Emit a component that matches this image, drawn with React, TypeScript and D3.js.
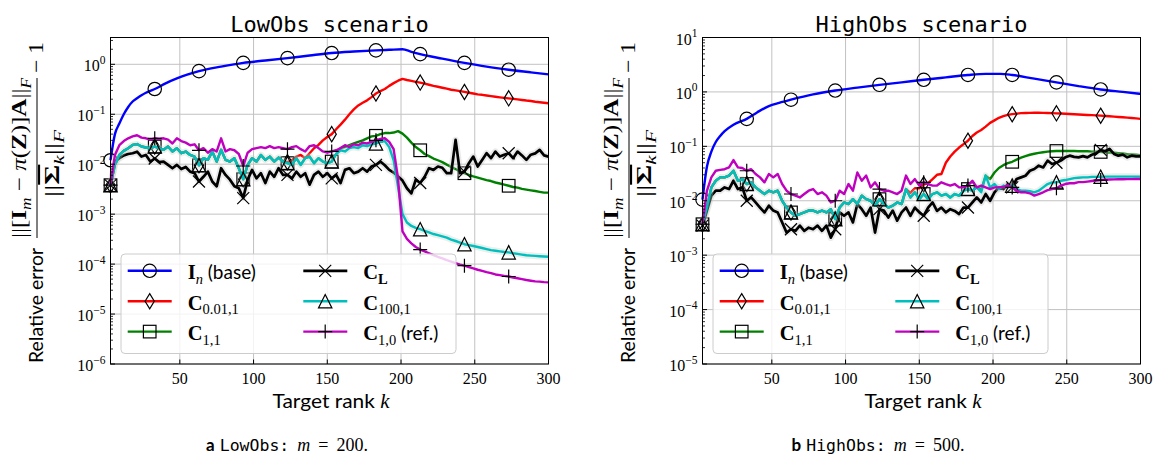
import React from 'react';
import * as d3 from 'd3';

// Target ranks k = 3, 6, ..., 300 and the ranks that carry a marker
const RANKS = d3.range(3, 301, 3);
const MARK_RANKS = d3.range(3, 301, 30);

// ---------- LowObs (m = 200) ----------
const LOW_BASE_K = [3, 6, 9, 12, 15, 18, 21, 24, 27, 33, 40, 48, 55, 63, 78, 93, 108, 123, 138, 153, 168, 183, 192, 201, 207, 213, 228, 243, 258, 273, 288, 300];
const LOW_BASE_V = [0.012, 0.04, 0.065, 0.1, 0.14, 0.18, 0.21, 0.24, 0.27, 0.32, 0.41, 0.52, 0.62, 0.73, 0.9, 1.07, 1.19, 1.33, 1.5, 1.68, 1.8, 1.9, 1.95, 2.0, 1.78, 1.6, 1.3, 1.07, 0.9, 0.78, 0.69, 0.63];

const LOW_C001 = [
  0.0038, 0.0097, 0.0153, 0.0185, 0.0209, 0.0243, 0.0253, 0.0226, 0.0216, 0.0209,
  0.0226, 0.0209, 0.0194, 0.0226, 0.0179, 0.0209, 0.0166, 0.0179, 0.0153, 0.0142,
  0.0095, 0.0132, 0.0122, 0.0179, 0.0113, 0.0194, 0.0122, 0.0113, 0.0132, 0.0083,
  0.005, 0.0097, 0.0132, 0.0113, 0.0153, 0.0122, 0.0142, 0.0113, 0.0136, 0.0113,
  0.011, 0.012, 0.0142, 0.0153, 0.0132, 0.0166, 0.0209, 0.0243, 0.03, 0.035,
  0.04, 0.05, 0.062, 0.078, 0.1, 0.125, 0.15, 0.17, 0.19, 0.22,
  0.26, 0.29, 0.32, 0.37, 0.42, 0.47, 0.51, 0.485, 0.465, 0.445,
  0.43, 0.41, 0.39, 0.37, 0.355, 0.34, 0.325, 0.31, 0.3, 0.29,
  0.28, 0.27, 0.26, 0.25, 0.245, 0.237, 0.23, 0.224, 0.218, 0.213,
  0.208, 0.203, 0.198, 0.193, 0.188, 0.184, 0.178, 0.174, 0.17, 0.166,
];

const LOW_C11 = [
  0.0038, 0.0097, 0.0153, 0.0185, 0.0209, 0.0243, 0.0253, 0.0226, 0.0216, 0.0209,
  0.0226, 0.0209, 0.0194, 0.0226, 0.0179, 0.0209, 0.0166, 0.0179, 0.0153, 0.0142,
  0.0095, 0.0132, 0.0122, 0.0179, 0.0113, 0.0194, 0.0122, 0.0113, 0.0132, 0.0083,
  0.005, 0.0097, 0.0132, 0.0113, 0.0153, 0.0122, 0.0142, 0.0113, 0.0136, 0.0113,
  0.0105, 0.0097, 0.0132, 0.0097, 0.0132, 0.0142, 0.0105, 0.0132, 0.0113, 0.0105,
  0.0113, 0.016, 0.021, 0.022, 0.024, 0.026, 0.028, 0.03, 0.033, 0.036,
  0.037, 0.04, 0.042, 0.042, 0.043, 0.046, 0.041, 0.034, 0.027, 0.022,
  0.019, 0.016, 0.0145, 0.013, 0.012, 0.011, 0.0098, 0.0088, 0.008, 0.0072,
  0.0066, 0.0061, 0.0057, 0.0054, 0.0051, 0.0048, 0.0046, 0.0043, 0.0041, 0.0039,
  0.0037, 0.0035, 0.0034, 0.0032, 0.0031, 0.003, 0.0029, 0.0028, 0.0027, 0.0027,
];

const LOW_CL = [
  0.0038, 0.0113, 0.0132, 0.015, 0.016, 0.0166, 0.0178, 0.0142, 0.0153, 0.0113,
  0.013, 0.011, 0.0113, 0.0097, 0.0083, 0.0097, 0.008, 0.0088, 0.0071, 0.0066,
  0.0045, 0.0056, 0.0071, 0.0045, 0.0036, 0.0083, 0.0061, 0.0049, 0.0036, 0.0033,
  0.0021, 0.0049, 0.0077, 0.0052, 0.0066, 0.0042, 0.0071, 0.0056, 0.0083, 0.0061,
  0.0061, 0.0052, 0.0071, 0.0056, 0.0066, 0.0039, 0.0061, 0.0071, 0.0056, 0.0066,
  0.0052, 0.0061, 0.0042, 0.0077, 0.0083, 0.0066, 0.0071, 0.0083, 0.0071, 0.009,
  0.0097, 0.0113, 0.0095, 0.0077, 0.0068, 0.0057, 0.0047, 0.0033, 0.0026, 0.0049,
  0.0042, 0.0056, 0.0083, 0.0077, 0.009, 0.0085, 0.0066, 0.0066, 0.0306, 0.0066,
  0.0071, 0.0105, 0.0142, 0.009, 0.0122, 0.0166, 0.0132, 0.0179, 0.0142, 0.0155,
  0.0166, 0.0132, 0.0179, 0.015, 0.0122, 0.0155, 0.0165, 0.0193, 0.015, 0.0142,
];

const LOW_C100 = [
  0.0038, 0.0097, 0.0153, 0.0185, 0.0209, 0.0243, 0.0253, 0.0226, 0.0216, 0.0209,
  0.0226, 0.0209, 0.0194, 0.0226, 0.0179, 0.0209, 0.0166, 0.0179, 0.0153, 0.0142,
  0.0095, 0.0132, 0.0122, 0.0179, 0.0113, 0.0194, 0.0122, 0.0113, 0.0132, 0.0083,
  0.005, 0.0097, 0.0132, 0.0113, 0.0153, 0.0122, 0.0142, 0.0113, 0.0136, 0.0113,
  0.0105, 0.0097, 0.0132, 0.0097, 0.0132, 0.0142, 0.0105, 0.0132, 0.0113, 0.0105,
  0.0113, 0.016, 0.019, 0.018, 0.021, 0.022, 0.021, 0.024, 0.023, 0.025,
  0.026, 0.028, 0.029, 0.022, 0.012, 0.0035, 0.001, 0.00068, 0.00058, 0.00053,
  0.0005, 0.00046, 0.00043, 0.0004, 0.00038, 0.00036, 0.00034, 0.00031, 0.00029, 0.00027,
  0.00025, 0.00024, 0.00023, 0.00022, 0.00021, 0.0002, 0.00019, 0.000185, 0.00018, 0.000175,
  0.000172, 0.000165, 0.00016, 0.000155, 0.00015, 0.000148, 0.000146, 0.000144, 0.000142, 0.00014,
];

const LOW_C10 = [
  0.0038, 0.0153, 0.024, 0.029, 0.033, 0.036, 0.038, 0.034, 0.033, 0.031,
  0.033, 0.032, 0.033, 0.031, 0.026, 0.033, 0.029, 0.027, 0.024, 0.025,
  0.019, 0.021, 0.017, 0.02, 0.018, 0.033, 0.018, 0.02, 0.019, 0.016,
  0.0092, 0.017, 0.02, 0.021, 0.022, 0.021, 0.023, 0.021, 0.022, 0.021,
  0.02, 0.022, 0.023, 0.02, 0.018, 0.023, 0.024, 0.021, 0.018, 0.017,
  0.018, 0.019, 0.021, 0.024, 0.022, 0.025, 0.024, 0.027, 0.026, 0.028,
  0.03, 0.032, 0.033, 0.028, 0.02, 0.005, 0.00045, 0.00032, 0.00026, 0.00022,
  0.000195, 0.00018, 0.000165, 0.000152, 0.00014, 0.00013, 0.00012, 0.000112, 0.000105, 0.000098,
  0.000093, 0.000087, 0.000082, 0.000077, 0.000073, 0.000069, 0.000066, 0.000062, 0.00006, 0.000058,
  0.0000565, 0.000054, 0.000052, 0.00005, 0.000048, 0.0000465, 0.000045, 0.0000445, 0.0000435, 0.000043,
];

// ---------- HighObs (m = 500) ----------
const HIGH_BASE_K = [3, 6, 9, 12, 15, 18, 24, 33, 40, 48, 55, 63, 78, 93, 108, 123, 138, 153, 168, 183, 195, 205, 213, 228, 243, 258, 273, 288, 300];
const HIGH_BASE_V = [0.0105, 0.042, 0.08, 0.12, 0.155, 0.19, 0.25, 0.32, 0.42, 0.55, 0.63, 0.72, 0.9, 1.06, 1.2, 1.35, 1.5, 1.67, 1.85, 2.05, 2.15, 2.15, 2.05, 1.75, 1.5, 1.28, 1.11, 1.0, 0.92];

const HIGH_C001 = [
  0.0037, 0.0075, 0.0176, 0.0233, 0.0269, 0.0269, 0.029, 0.0356, 0.0233, 0.025,
  0.0203, 0.0218, 0.0176, 0.0153, 0.0133, 0.0153, 0.0143, 0.0153, 0.01, 0.0075,
  0.0061, 0.0053, 0.0057, 0.0061, 0.0066, 0.0066, 0.0061, 0.0066, 0.0061, 0.007,
  0.0046, 0.0075, 0.0093, 0.0087, 0.0107, 0.0087, 0.0124, 0.0107, 0.01, 0.0081,
  0.0107, 0.0087, 0.0075, 0.0081, 0.0093, 0.0087, 0.0164, 0.014, 0.017, 0.017,
  0.02, 0.021, 0.025, 0.03, 0.031, 0.05, 0.065, 0.08, 0.095, 0.11,
  0.127, 0.155, 0.18, 0.2, 0.23, 0.27, 0.3, 0.335, 0.36, 0.378,
  0.39, 0.4, 0.407, 0.41, 0.412, 0.413, 0.413, 0.412, 0.41, 0.407,
  0.404, 0.4, 0.396, 0.392, 0.388, 0.385, 0.381, 0.377, 0.374, 0.371,
  0.366, 0.362, 0.357, 0.352, 0.347, 0.342, 0.337, 0.331, 0.326, 0.32,
];

const HIGH_C11 = [
  0.0037, 0.0075, 0.0176, 0.0233, 0.0269, 0.0269, 0.029, 0.0356, 0.0233, 0.025,
  0.0203, 0.0218, 0.0176, 0.0153, 0.0133, 0.0153, 0.0143, 0.0153, 0.01, 0.0075,
  0.0061, 0.0053, 0.0057, 0.0061, 0.0066, 0.0066, 0.0061, 0.0066, 0.0061, 0.007,
  0.0046, 0.0075, 0.0093, 0.0087, 0.0107, 0.0087, 0.0124, 0.0107, 0.01, 0.0081,
  0.0107, 0.0087, 0.0075, 0.0081, 0.0093, 0.0087, 0.0164, 0.0115, 0.0143, 0.0107,
  0.0133, 0.0107, 0.0133, 0.0143, 0.0124, 0.0133, 0.0115, 0.0133, 0.0124, 0.0153,
  0.0164, 0.0153, 0.0176, 0.016, 0.029, 0.025, 0.033, 0.04, 0.045, 0.049,
  0.052, 0.057, 0.062, 0.066, 0.07, 0.073, 0.076, 0.078, 0.08, 0.081,
  0.082, 0.082, 0.082, 0.082, 0.082, 0.081, 0.081, 0.081, 0.08, 0.08,
  0.079, 0.078, 0.077, 0.076, 0.075, 0.074, 0.072, 0.071, 0.07, 0.068,
];

const HIGH_CL = [
  0.0035, 0.0066, 0.0124, 0.0153, 0.0153, 0.0176, 0.0164, 0.0233, 0.0164, 0.0176,
  0.01, 0.0115, 0.0093, 0.0075, 0.0061, 0.0081, 0.0066, 0.0061, 0.004, 0.0026,
  0.003, 0.0028, 0.0035, 0.0028, 0.0032, 0.003, 0.0035, 0.0028, 0.0035, 0.0021,
  0.003, 0.0061, 0.0053, 0.0061, 0.004, 0.0087, 0.007, 0.0053, 0.0075, 0.0026,
  0.007, 0.0066, 0.0049, 0.0066, 0.0043, 0.0061, 0.0075, 0.0053, 0.0075, 0.0061,
  0.0053, 0.0075, 0.0093, 0.0065, 0.0075, 0.0061, 0.007, 0.0065, 0.0057, 0.0075,
  0.0075, 0.0093, 0.0115, 0.0093, 0.0133, 0.01, 0.0142, 0.0176, 0.0164, 0.0203,
  0.0176, 0.0251, 0.0269, 0.0288, 0.0356, 0.0383, 0.0442, 0.041, 0.0546, 0.0474,
  0.05, 0.0546, 0.0627, 0.0674, 0.064, 0.0627, 0.066, 0.0627, 0.07, 0.0743,
  0.0859, 0.081, 0.0895, 0.0725, 0.0674, 0.0703, 0.0627, 0.0674, 0.0655, 0.0655,
];

const HIGH_C100 = [
  0.0037, 0.0075, 0.0176, 0.0233, 0.0269, 0.0269, 0.029, 0.0356, 0.0233, 0.025,
  0.0203, 0.0218, 0.0176, 0.0153, 0.0133, 0.0153, 0.0143, 0.0153, 0.01, 0.0075,
  0.0061, 0.0053, 0.0057, 0.0061, 0.0066, 0.0066, 0.0061, 0.0066, 0.0061, 0.007,
  0.0046, 0.0075, 0.0093, 0.0087, 0.0107, 0.0087, 0.0124, 0.0107, 0.01, 0.0081,
  0.0107, 0.0087, 0.0075, 0.0081, 0.0093, 0.0087, 0.0164, 0.0115, 0.0143, 0.0107,
  0.0133, 0.0107, 0.0133, 0.0143, 0.0124, 0.0133, 0.0115, 0.0133, 0.0124, 0.0153,
  0.0164, 0.0153, 0.0176, 0.0143, 0.029, 0.0176, 0.0203, 0.0164, 0.019, 0.0176,
  0.019, 0.0164, 0.0153, 0.0153, 0.015, 0.0143, 0.0153, 0.0176, 0.0203, 0.0218,
  0.0218, 0.0233, 0.024, 0.025, 0.026, 0.0265, 0.0269, 0.0269, 0.0275, 0.0275,
  0.0276, 0.0277, 0.0277, 0.0278, 0.0278, 0.0278, 0.0278, 0.0278, 0.0277, 0.0277,
];

const HIGH_C10 = [
  0.0037, 0.0153, 0.0269, 0.0356, 0.037, 0.038, 0.0411, 0.056, 0.041, 0.04,
  0.0356, 0.038, 0.031, 0.0269, 0.0218, 0.031, 0.0269, 0.031, 0.0203, 0.0153,
  0.0133, 0.0124, 0.0115, 0.0133, 0.0153, 0.0164, 0.0133, 0.0143, 0.0124, 0.0093,
  0.01, 0.0153, 0.0133, 0.0203, 0.0153, 0.033, 0.0233, 0.029, 0.0176, 0.0218,
  0.0164, 0.0153, 0.0153, 0.0143, 0.0133, 0.0153, 0.029, 0.0203, 0.025, 0.019,
  0.0218, 0.0203, 0.019, 0.019, 0.0218, 0.0203, 0.019, 0.0203, 0.0176, 0.0176,
  0.019, 0.0233, 0.0176, 0.019, 0.0176, 0.0164, 0.0176, 0.0176, 0.018, 0.019,
  0.0176, 0.0153, 0.0143, 0.0143, 0.0137, 0.0124, 0.0133, 0.0143, 0.0157, 0.0164,
  0.017, 0.019, 0.0203, 0.021, 0.021, 0.022, 0.022, 0.0225, 0.023, 0.0235,
  0.024, 0.0243, 0.0245, 0.0247, 0.0248, 0.0249, 0.025, 0.025, 0.0251, 0.0251,
];

// Axis tick values
const X_TICKS = [50, 100, 150, 200, 250, 300];
const LOW_Y_TICKS = [1e-6, 1e-5, 1e-4, 1e-3, 1e-2, 1e-1, 1e0];
const HIGH_Y_TICKS = [1e-5, 1e-4, 1e-3, 1e-2, 1e-1, 1e0, 1e1];

const SERIF = "'Liberation Serif', 'DejaVu Serif', serif";
const SANS = "Lato, 'Liberation Sans', sans-serif";
const MONO = "'DejaVu Sans Mono', 'Liberation Mono', monospace";

const TOP = 37.5;
const BOTTOM = 364;

type MarkerKind = 'circle' | 'diamond' | 'square' | 'x' | 'triangle' | 'plus';

interface Series {
  key: string;
  ks: number[];
  vs: number[];
  color: string;
  marker: MarkerKind;
  width: number;
  smooth?: boolean;
  halo?: string;
}

const STYLE: Record<string, { color: string; marker: MarkerKind; width: number; halo?: string }> = {
  base: { color: '#0000ff', marker: 'circle', width: 2.4 },
  c001: { color: '#ff0000', marker: 'diamond', width: 2.4 },
  c11: { color: '#008000', marker: 'square', width: 2.4 },
  cl: { color: '#000000', marker: 'x', width: 2.7, halo: '#c4c4c4' },
  c100: { color: '#00bfbf', marker: 'triangle', width: 2.4, halo: '#c6d2c6' },
  c10: { color: '#bf00bf', marker: 'plus', width: 2.4 },
};

function makeSeries(key: string, ks: number[], vs: number[], smooth = false): Series {
  return { key, ks, vs, smooth, ...STYLE[key] };
}

const PANELS = [
  {
    id: 'low',
    left: 110.5,
    right: 548.5,
    yDomain: [1e-6, 3.44] as [number, number],
    yTicks: LOW_Y_TICKS,
    title: 'LowObs scenario',
    series: [
      makeSeries('base', LOW_BASE_K, LOW_BASE_V, true),
      makeSeries('c001', RANKS, LOW_C001),
      makeSeries('c11', RANKS, LOW_C11),
      makeSeries('cl', RANKS, LOW_CL),
      makeSeries('c100', RANKS, LOW_C100),
      makeSeries('c10', RANKS, LOW_C10),
    ],
    caption: { letter: 'a', name: 'LowObs:', value: '200', cx: 287 },
  },
  {
    id: 'high',
    left: 702.5,
    right: 1140.5,
    yDomain: [1e-5, 10] as [number, number],
    yTicks: HIGH_Y_TICKS,
    title: 'HighObs scenario',
    series: [
      makeSeries('base', HIGH_BASE_K, HIGH_BASE_V, true),
      makeSeries('c001', RANKS, HIGH_C001),
      makeSeries('c11', RANKS, HIGH_C11),
      makeSeries('cl', RANKS, HIGH_CL),
      makeSeries('c100', RANKS, HIGH_C100),
      makeSeries('c10', RANKS, HIGH_C10),
    ],
    caption: { letter: 'b', name: 'HighObs:', value: '500', cx: 878 },
  },
];

function Marker({ kind, x, y }: { kind: MarkerKind; x: number; y: number }) {
  const common = { fill: 'none', stroke: '#000', strokeWidth: 1.2 };
  switch (kind) {
    case 'circle':
      return <circle cx={x} cy={y} r={6.7} {...common} />;
    case 'square':
      return <rect x={x - 6.3} y={y - 6.3} width={12.6} height={12.6} {...common} />;
    case 'diamond':
      return <path d={`M${x},${y - 7.6}L${x + 4.6},${y}L${x},${y + 7.6}L${x - 4.6},${y}Z`} {...common} />;
    case 'triangle':
      return <path d={`M${x},${y - 6.7}L${x + 6.7},${y + 6.7}L${x - 6.7},${y + 6.7}Z`} {...common} />;
    case 'x':
      return <path d={`M${x - 6},${y - 6}L${x + 6},${y + 6}M${x - 6},${y + 6}L${x + 6},${y - 6}`} {...common} />;
    case 'plus':
      return <path d={`M${x - 7},${y}L${x + 7},${y}M${x},${y - 7}L${x},${y + 7}`} {...common} />;
  }
  return null;
}

const SUB_DY = 4.5;

function LegendLabel({ id }: { id: string }) {
  const subSize = 14.5;
  if (id === 'base') {
    return (
      <>
        <tspan fontWeight="bold">I</tspan>
        <tspan fontStyle="italic" fontSize={subSize} dy={SUB_DY}>n</tspan>
        <tspan fontFamily={SANS} fontSize={19} dy={-SUB_DY}>{' (base)'}</tspan>
      </>
    );
  }
  const subs: Record<string, string> = { c001: '0.01,1', c11: '1,1', cl: 'L', c100: '100,1', c10: '1,0' };
  return (
    <>
      <tspan fontWeight="bold">C</tspan>
      <tspan fontSize={subSize} dy={SUB_DY} fontWeight={id === 'cl' ? 'bold' : 'normal'}>{subs[id]}</tspan>
      {id === 'c10' && (
        <tspan fontFamily={SANS} fontSize={19} dy={-SUB_DY}>{' (ref.)'}</tspan>
      )}
    </>
  );
}

const LEGEND_ORDER = [
  ['base', 'c001', 'c11'],
  ['cl', 'c100', 'c10'],
];

function Legend({ left }: { left: number }) {
  const bx = left + 10.5;
  const by = 254;
  const rows = [270.8, 301.2, 331.6];
  const cols = [
    { l0: 6.7, l1: 50.7, m: 28.7, t: 66.7 },
    { l0: 182.3, l1: 226.3, m: 204.2, t: 242.3 },
  ];
  return (
    <g>
      <rect x={bx} y={by} width={335} height={99.5} rx={4} fill="#fff" fillOpacity={0.8} stroke="#cccccc" strokeWidth={1} />
      {LEGEND_ORDER.map((col, ci) =>
        col.map((id, ri) => {
          const st = STYLE[id];
          const c = cols[ci];
          const ry = rows[ri];
          return (
            <g key={id}>
              <line x1={bx + c.l0} x2={bx + c.l1} y1={ry} y2={ry} stroke={st.color} strokeWidth={st.width} />
              <Marker kind={st.marker} x={bx + c.m} y={ry} />
              <text x={bx + c.t} y={ry + 8.5} fontFamily={SERIF} fontSize={20.5}>
                <LegendLabel id={id} />
              </text>
            </g>
          );
        })
      )}
    </g>
  );
}

function YLabel({ shift }: { shift: number }) {
  // drawn in a frame rotated by -90 degrees: local x runs up the page
  return (
    <g transform={`translate(${shift}, ${BOTTOM}) rotate(-90)`}>
      <text x={1} y={43} fontFamily={SANS} fontSize={20} textLength={115} lengthAdjust="spacingAndGlyphs">
        Relative error
      </text>
      <text x={206} y={26} textAnchor="middle" fontFamily={SERIF} fontSize={21} textLength={160} lengthAdjust="spacingAndGlyphs">
        <tspan>||[</tspan>
        <tspan fontWeight="bold">I</tspan>
        <tspan fontStyle="italic" fontSize={14.5} dy={4.5}>m</tspan>
        <tspan dy={-4.5}>{' \u2212 '}</tspan>
        <tspan fontStyle="italic">π</tspan>
        <tspan>(</tspan>
        <tspan fontWeight="bold">Z</tspan>
        <tspan>)]</tspan>
        <tspan fontWeight="bold">A</tspan>
        <tspan>||</tspan>
        <tspan fontStyle="italic" fontSize={14.5} dy={5}>F</tspan>
      </text>
      <line x1={126} x2={286} y1={37} y2={37} stroke="#000" strokeWidth={1} />
      <text x={200.5} y={59} textAnchor="middle" fontFamily={SERIF} fontSize={21} textLength={67} lengthAdjust="spacingAndGlyphs">
        <tspan>||</tspan>
        <tspan fontWeight="bold" style={{ textDecoration: 'overline' }}>Σ</tspan>
        <tspan fontStyle="italic" fontSize={14.5} dy={4.5}>k</tspan>
        <tspan dy={-4.5}>||</tspan>
        <tspan fontStyle="italic" fontSize={14.5} dy={5}>F</tspan>
      </text>
      <text x={291} y={43} fontFamily={SERIF} fontSize={21} textLength={31} lengthAdjust="spacingAndGlyphs">
        {'\u2212 1'}
      </text>
    </g>
  );
}

function Panel({ cfg }: { cfg: (typeof PANELS)[number] }) {
  const x = d3.scaleLinear().domain([3, 300]).range([cfg.left, cfg.right]);
  const y = d3.scaleLog().domain(cfg.yDomain).range([BOTTOM, TOP]);
  const cx = (cfg.left + cfg.right) / 2;

  const minorTicks: number[] = [];
  const lo = Math.floor(Math.log10(cfg.yDomain[0]));
  const hi = Math.ceil(Math.log10(cfg.yDomain[1]));
  for (let e = lo; e < hi; e++) {
    for (let m = 2; m <= 9; m++) {
      const v = m * Math.pow(10, e);
      if (v > cfg.yDomain[0] && v < cfg.yDomain[1]) minorTicks.push(v);
    }
  }

  return (
    <g>
      {/* grid */}
      {X_TICKS.map((t) => (
        <line key={`gx${t}`} x1={x(t)} x2={x(t)} y1={TOP} y2={BOTTOM} stroke="#c2c2c2" strokeWidth={1} />
      ))}
      {cfg.yTicks.map((t) => (
        <line key={`gy${t}`} x1={cfg.left} x2={cfg.right} y1={y(t)} y2={y(t)} stroke="#c2c2c2" strokeWidth={1} />
      ))}

      {/* series */}
      {cfg.series.map((s) => {
        const pts: [number, number][] = s.ks.map((k, i) => [k, s.vs[i]]);
        const gen = d3
          .line<[number, number]>()
          .x((d) => x(d[0]))
          .y((d) => y(d[1]))
          .curve(s.smooth ? d3.curveMonotoneX : d3.curveLinear);
        const path = gen(pts) || '';
        return (
          <g key={s.key}>
            {s.halo && (
              <path d={path} fill="none" stroke={s.halo} strokeOpacity={0.35} strokeWidth={6.5} strokeLinejoin="round" />
            )}
            <path d={path} fill="none" stroke={s.color} strokeWidth={s.width} strokeLinejoin="round" />
            {MARK_RANKS.map((k) => {
              const idx = s.ks.indexOf(k);
              if (idx < 0) return null;
              return <Marker key={k} kind={s.marker} x={x(k)} y={y(s.vs[idx])} />;
            })}
          </g>
        );
      })}

      {/* spines */}
      <rect x={cfg.left} y={TOP} width={cfg.right - cfg.left} height={BOTTOM - TOP} fill="none" stroke="#000" strokeWidth={1} />

      {/* ticks */}
      {X_TICKS.map((t) => (
        <line key={`tx${t}`} x1={x(t)} x2={x(t)} y1={BOTTOM} y2={BOTTOM - 4.5} stroke="#000" strokeWidth={1} />
      ))}
      {cfg.yTicks.map((t) => (
        <line key={`ty${t}`} x1={cfg.left} x2={cfg.left + 4.5} y1={y(t)} y2={y(t)} stroke="#000" strokeWidth={1} />
      ))}
      {minorTicks.map((t) => (
        <line key={`tm${t}`} x1={cfg.left} x2={cfg.left + 2.5} y1={y(t)} y2={y(t)} stroke="#000" strokeWidth={0.8} />
      ))}

      {/* tick labels */}
      {X_TICKS.map((t) => (
        <text key={`lx${t}`} x={x(t)} y={384.3} textAnchor="middle" fontFamily={SERIF} fontSize={16}>
          {t}
        </text>
      ))}
      {cfg.yTicks.map((t) => {
        const e = Math.round(Math.log10(t));
        return (
          <text key={`ly${t}`} x={cfg.left - 5} y={y(t) + 7} textAnchor="end" fontFamily={SERIF} fontSize={16}>
            10
            <tspan fontSize={11.5} dy={-7.5}>{e < 0 ? `\u2212${-e}` : `${e}`}</tspan>
          </text>
        );
      })}

      {/* titles and axis labels */}
      <text x={cx} y={31.5} textAnchor="middle" fontFamily={MONO} fontSize={22}>
        {cfg.title}
      </text>
      <text x={cx + 1.5} y={408.3} textAnchor="middle" fontFamily={SANS} fontSize={20} textLength={117} lengthAdjust="spacingAndGlyphs">
        {'Target rank '}
        <tspan fontFamily={SERIF} fontStyle="italic">k</tspan>
      </text>
      <YLabel shift={cfg.left - 110.5} />

      <Legend left={cfg.left} />

      {/* sub-figure caption */}
      <text x={cfg.caption.cx} y={451} textAnchor="middle" fontSize={17}>
        <tspan fontFamily={SANS} fontWeight="bold">{cfg.caption.letter}</tspan>
        <tspan fontFamily={MONO} fontSize={16.5} dx={5}>{cfg.caption.name}</tspan>
        <tspan fontFamily={SERIF} fontStyle="italic" fontSize={18} dx={8}>m</tspan>
        <tspan fontFamily={SERIF} fontSize={18} dx={8}>=</tspan>
        <tspan fontFamily={SERIF} fontSize={18} dx={8}>{`${cfg.caption.value}.`}</tspan>
      </text>
    </g>
  );
}

export default function App() {
  return (
    <svg
      width={1156}
      height={456}
      viewBox="0 0 1156 456"
      style={{ position: 'absolute', left: 0, top: 0, background: '#fff' }}
    >
      <rect x={0} y={0} width={1156} height={456} fill="#fff" />
      {PANELS.map((p) => (
        <Panel key={p.id} cfg={p} />
      ))}
    </svg>
  );
}
